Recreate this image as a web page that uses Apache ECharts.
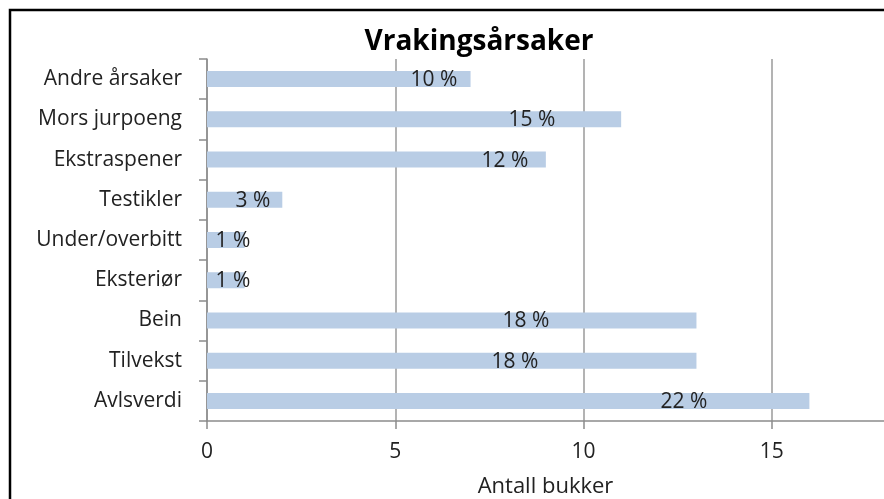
<!DOCTYPE html>
<html><head><meta charset="utf-8">
<script src="https://cdn.jsdelivr.net/npm/echarts@6/dist/echarts.min.js"></script>
<style>html,body{margin:0;padding:0;background:#fff}#c{width:884px;height:499px}</style>
</head><body><div id="c"></div>
<script>
const categories = ['Avlsverdi','Tilvekst','Bein','Eksteriør','Under/overbitt','Testikler','Ekstraspener','Mors jurpoeng','Andre årsaker'];
const counts = [16,13,13,1,1,2,9,11,7];
const shares = ['22 %','18 %','18 %','1 %','1 %','3 %','12 %','15 %','10 %'];
const xTicks = [0,5,10,15];
// label horizontal placement (px from bar start), as in the original
const labelDx = [477,308,319,26,26,46,298,325,227];

const FONT = 'Open Sans';
const chart = echarts.init(document.getElementById('c'));
chart.setOption({
  animation:false,
  title:{text:'Vrakingsårsaker',left:474,top:23,textAlign:'center',
    textStyle:{fontFamily:FONT,fontWeight:'bold',fontSize:28,color:'#000'}},
  graphic:[{type:'rect',shape:{x:10,y:10,width:1200,height:1200},
    style:{fill:'none',stroke:'#000',lineWidth:2.5},z:100}],
  grid:{left:207,top:59,right:-12,bottom:78,outerBoundsMode:'none',containLabel:false},
  xAxis:{type:'value',min:0,max:18.3,interval:5,
    name:'Antall bukker',nameLocation:'middle',nameGap:55,
    nameTextStyle:{fontFamily:FONT,fontSize:22,color:'#222',padding:[0,12,0,0]},
    axisLine:{show:true,lineStyle:{color:'#8c8c8c',width:1.5}},
    axisTick:{show:true,length:8,lineStyle:{color:'#8c8c8c',width:1.5}},
    axisLabel:{fontFamily:FONT,fontSize:21,color:'#222',margin:21,
      formatter:v=>xTicks.includes(v)?String(v):''},
    splitLine:{show:true,lineStyle:{color:'#9a9a9a',width:1.5}}},
  yAxis:{type:'category',data:categories,
    axisLine:{show:true,lineStyle:{color:'#8c8c8c',width:1.5}},
    axisTick:{show:true,length:8,lineStyle:{color:'#8c8c8c',width:1.5}},
    axisLabel:{fontFamily:FONT,fontSize:21,color:'#222',margin:25}},
  series:[{type:'bar',barWidth:16,
    itemStyle:{color:'#b9cde5'},
    data:counts.map((v,i)=>({value:v,label:{show:true,position:[labelDx[i],9],
      align:'center',verticalAlign:'middle',formatter:shares[i]}})),
    label:{fontFamily:FONT,fontSize:21,color:'#222'}}]
});
</script></body></html>
